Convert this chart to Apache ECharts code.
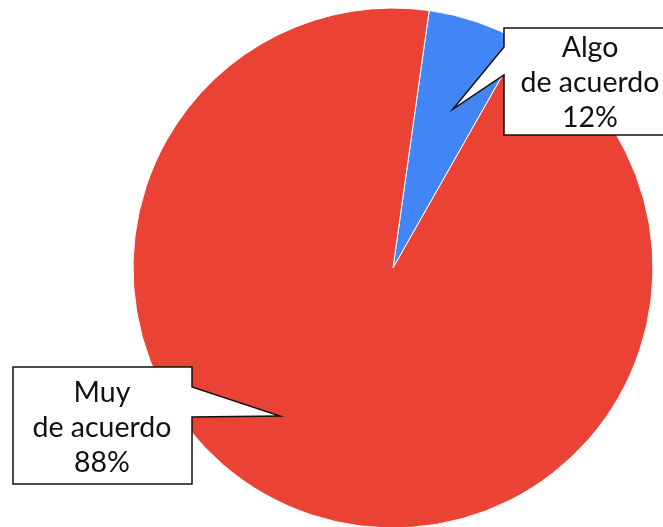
<!DOCTYPE html>
<html>
<head>
<meta charset="utf-8">
<script src="https://cdn.jsdelivr.net/npm/echarts@6/dist/echarts.min.js"></script>
<style>html,body{margin:0;padding:0;background:#fff;}#c{width:663px;height:527px;}</style>
</head>
<body>
<div id="c"></div>
<script>
// Data
var categories = ['Algo de acuerdo', 'Muy de acuerdo'];
var sliceValues = [6, 94];          // slice sizes as drawn
var labelPercents = ['12%', '88%']; // percentages printed in the callouts
var colors = ['#4285F4', '#EA4335'];

// Callout layout (annotation boxes, not data marks)
var callouts = [
  { box: [504, 28, 676, 135], base: [47, 75], side: 'left', tip: [453, 109], text: [590, 83] },
  { box: [13, 367, 192, 484], base: [387, 417], side: 'right', tip: [280, 416], text: [102, 428] }
];

function calloutPolygon(c) {
  var l = c.box[0], t = c.box[1], r = c.box[2], b = c.box[3];
  if (c.side === 'left') {
    return [[l, t], [r, t], [r, b], [l, b], [l, c.base[1]], c.tip, [l, c.base[0]]];
  }
  return [[l, t], [r, t], [r, c.base[0]], c.tip, [r, c.base[1]], [r, b], [l, b]];
}

function labelText(i) {
  var words = categories[i].split(' ');
  return words[0] + '\n' + words.slice(1).join(' ') + '\n' + labelPercents[i];
}

var graphics = [];
callouts.forEach(function (c, i) {
  graphics.push({
    type: 'polygon', z: 10,
    shape: { points: calloutPolygon(c) },
    style: { fill: '#fff', stroke: '#111', lineWidth: 1.5 }
  });
  graphics.push({
    type: 'text', z: 11, x: c.text[0], y: c.text[1],
    style: {
      text: labelText(i), fill: '#111', fontSize: 28.5, fontFamily: 'Lato',
      lineHeight: 35, align: 'center', verticalAlign: 'middle'
    }
  });
});

var chart = echarts.init(document.getElementById('c'));
chart.setOption({
  animation: false,
  backgroundColor: '#fff',
  series: [{
    type: 'pie',
    center: [393, 268],
    radius: 260,
    startAngle: 82,
    clockwise: true,
    label: { show: false },
    labelLine: { show: false },
    itemStyle: { borderColor: '#fff', borderWidth: 1 },
    data: categories.map(function (name, i) {
      return { name: name, value: sliceValues[i], itemStyle: { color: colors[i] } };
    })
  }],
  graphic: graphics
});
</script>
</body>
</html>
